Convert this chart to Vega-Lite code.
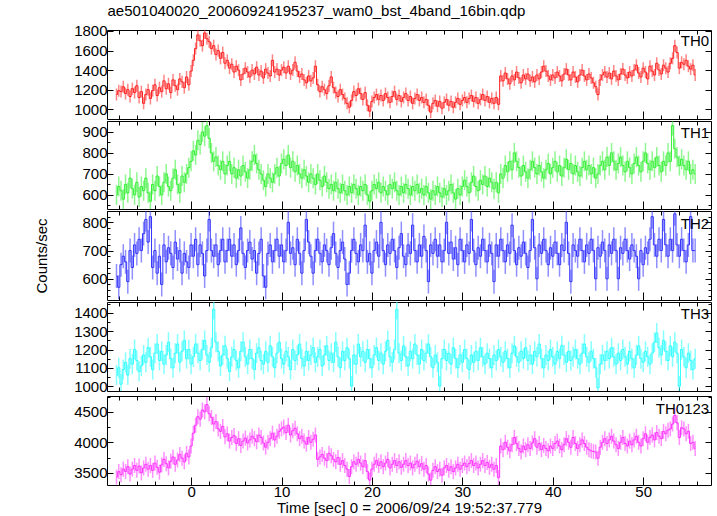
{
"$schema":"https://vega.github.io/schema/vega-lite/v6.json",
"background":"white",
"padding":{"left":34,"top":4,"right":5,"bottom":2},
"title":{"text":"ae501040020_20060924195237_wam0_bst_4band_16bin.qdp","anchor":"start","fontSize":15,"fontWeight":"normal","font":"Liberation Sans","color":"black","offset":4,"dx":73},
"spacing":0,
"data":{"values":[
{"t":-8.25,"a":1150,"b":600,"c":610,"d":1060,"e":3430},
{"t":-8,"a":1190,"b":640,"c":570,"d":1100,"e":3520},
{"t":-7.75,"a":1180,"b":620,"c":650,"d":1010,"e":3470},
{"t":-7.5,"a":1230,"b":580,"c":680,"d":1090,"e":3560},
{"t":-7.25,"a":1160,"b":650,"c":660,"d":1130,"e":3520},
{"t":-7,"a":1200,"b":610,"c":590,"d":1060,"e":3600},
{"t":-6.75,"a":1130,"b":680,"c":700,"d":1150,"e":3480},
{"t":-6.5,"a":1210,"b":630,"c":640,"d":1120,"e":3560},
{"t":-6.25,"a":1170,"b":600,"c":720,"d":1200,"e":3620},
{"t":-6,"a":1240,"b":660,"c":690,"d":1140,"e":3540},
{"t":-5.75,"a":1120,"b":590,"c":740,"d":1080,"e":3610},
{"t":-5.5,"a":1180,"b":640,"c":700,"d":1110,"e":3500},
{"t":-5.25,"a":1060,"b":620,"c":760,"d":1170,"e":3580},
{"t":-5,"a":1150,"b":680,"c":810,"d":1130,"e":3640},
{"t":-4.75,"a":1200,"b":610,"c":730,"d":1210,"e":3560},
{"t":-4.5,"a":1110,"b":570,"c":820,"d":1160,"e":3620},
{"t":-4.25,"a":1190,"b":650,"c":640,"d":1090,"e":3540},
{"t":-4,"a":1250,"b":620,"c":700,"d":1180,"e":3660},
{"t":-3.75,"a":1140,"b":690,"c":620,"d":1230,"e":3590},
{"t":-3.5,"a":1220,"b":640,"c":680,"d":1140,"e":3510},
{"t":-3.25,"a":1180,"b":600,"c":580,"d":1190,"e":3630},
{"t":-3,"a":1290,"b":660,"c":720,"d":1120,"e":3720},
{"t":-2.75,"a":1210,"b":700,"c":660,"d":1170,"e":3650},
{"t":-2.5,"a":1260,"b":640,"c":710,"d":1240,"e":3580},
{"t":-2.25,"a":1170,"b":620,"c":690,"d":1150,"e":3690},
{"t":-2,"a":1300,"b":680,"c":640,"d":1100,"e":3760},
{"t":-1.75,"a":1240,"b":720,"c":730,"d":1180,"e":3640},
{"t":-1.5,"a":1200,"b":650,"c":670,"d":1230,"e":3710},
{"t":-1.25,"a":1310,"b":610,"c":700,"d":1130,"e":3800},
{"t":-1,"a":1280,"b":690,"c":620,"d":1190,"e":3740},
{"t":-0.75,"a":1220,"b":660,"c":690,"d":1250,"e":3680},
{"t":-0.5,"a":1330,"b":700,"c":660,"d":1150,"e":3820},
{"t":-0.25,"a":1250,"b":730,"c":640,"d":1200,"e":3760},
{"t":0,"a":1390,"b":760,"c":720,"d":1120,"e":3940},
{"t":0.25,"a":1500,"b":810,"c":680,"d":1160,"e":4150},
{"t":0.5,"a":1620,"b":790,"c":740,"d":1230,"e":4280},
{"t":0.75,"a":1760,"b":860,"c":650,"d":1180,"e":4420},
{"t":1,"a":1700,"b":840,"c":720,"d":1140,"e":4380},
{"t":1.25,"a":1650,"b":900,"c":690,"d":1200,"e":4530},
{"t":1.5,"a":1780,"b":880,"c":610,"d":1250,"e":4500},
{"t":1.75,"a":1720,"b":930,"c":700,"d":1170,"e":4620},
{"t":2,"a":1690,"b":870,"c":810,"d":1130,"e":4470},
{"t":2.25,"a":1620,"b":800,"c":700,"d":1210,"e":4410},
{"t":2.5,"a":1650,"b":760,"c":680,"d":1420,"e":4300},
{"t":2.75,"a":1560,"b":780,"c":720,"d":1240,"e":4340},
{"t":3,"a":1600,"b":740,"c":650,"d":1190,"e":4220},
{"t":3.25,"a":1520,"b":720,"c":700,"d":1110,"e":4180},
{"t":3.5,"a":1580,"b":760,"c":740,"d":1170,"e":4260},
{"t":3.75,"a":1470,"b":700,"c":660,"d":1220,"e":4090},
{"t":4,"a":1500,"b":740,"c":700,"d":1150,"e":4140},
{"t":4.25,"a":1420,"b":760,"c":740,"d":1080,"e":4020},
{"t":4.5,"a":1460,"b":700,"c":680,"d":1160,"e":4080},
{"t":4.75,"a":1380,"b":730,"c":720,"d":1200,"e":4110},
{"t":5,"a":1440,"b":680,"c":650,"d":1140,"e":3980},
{"t":5.25,"a":1400,"b":720,"c":700,"d":1100,"e":4060},
{"t":5.5,"a":1300,"b":690,"c":780,"d":1190,"e":3950},
{"t":5.75,"a":1360,"b":740,"c":690,"d":1240,"e":4020},
{"t":6,"a":1420,"b":710,"c":640,"d":1160,"e":4070},
{"t":6.25,"a":1380,"b":680,"c":700,"d":1120,"e":3990},
{"t":6.5,"a":1330,"b":720,"c":730,"d":1200,"e":4040},
{"t":6.75,"a":1400,"b":760,"c":670,"d":1150,"e":4100},
{"t":7,"a":1360,"b":790,"c":700,"d":1090,"e":4060},
{"t":7.25,"a":1430,"b":750,"c":620,"d":1180,"e":4010},
{"t":7.5,"a":1350,"b":720,"c":690,"d":1210,"e":4120},
{"t":7.75,"a":1390,"b":700,"c":740,"d":1140,"e":4080},
{"t":8,"a":1320,"b":670,"c":610,"d":1120,"e":3990},
{"t":8.25,"a":1410,"b":640,"c":570,"d":1190,"e":3920},
{"t":8.5,"a":1370,"b":700,"c":690,"d":1130,"e":4000},
{"t":8.75,"a":1340,"b":680,"c":720,"d":1220,"e":4060},
{"t":9,"a":1500,"b":660,"c":660,"d":1160,"e":4150},
{"t":9.25,"a":1380,"b":700,"c":700,"d":1100,"e":4040},
{"t":9.5,"a":1410,"b":730,"c":740,"d":1180,"e":4100},
{"t":9.75,"a":1350,"b":690,"c":680,"d":1240,"e":4180},
{"t":10,"a":1400,"b":750,"c":720,"d":1150,"e":4220},
{"t":10.25,"a":1430,"b":770,"c":660,"d":1120,"e":4250},
{"t":10.5,"a":1370,"b":740,"c":700,"d":1190,"e":4160},
{"t":10.75,"a":1440,"b":790,"c":800,"d":1160,"e":4280},
{"t":11,"a":1360,"b":730,"c":690,"d":1090,"e":4120},
{"t":11.25,"a":1400,"b":760,"c":710,"d":1200,"e":4190},
{"t":11.5,"a":1480,"b":710,"c":650,"d":1140,"e":4230},
{"t":11.75,"a":1390,"b":740,"c":740,"d":1170,"e":4140},
{"t":12,"a":1330,"b":700,"c":690,"d":1230,"e":4060},
{"t":12.25,"a":1360,"b":680,"c":620,"d":1150,"e":4100},
{"t":12.5,"a":1300,"b":720,"c":700,"d":1110,"e":4020},
{"t":12.75,"a":1270,"b":690,"c":810,"d":1190,"e":3970},
{"t":13,"a":1340,"b":660,"c":730,"d":1140,"e":4080},
{"t":13.25,"a":1290,"b":700,"c":680,"d":1170,"e":4000},
{"t":13.5,"a":1320,"b":680,"c":620,"d":1210,"e":4050},
{"t":13.75,"a":1440,"b":650,"c":700,"d":1130,"e":4120},
{"t":14,"a":1250,"b":700,"c":740,"d":1160,"e":3720},
{"t":14.25,"a":1180,"b":670,"c":690,"d":1200,"e":3760},
{"t":14.5,"a":1230,"b":640,"c":660,"d":1110,"e":3800},
{"t":14.75,"a":1200,"b":690,"c":720,"d":1170,"e":3740},
{"t":15,"a":1160,"b":660,"c":700,"d":1220,"e":3700},
{"t":15.25,"a":1240,"b":630,"c":650,"d":1140,"e":3820},
{"t":15.5,"a":1330,"b":650,"c":710,"d":1180,"e":3780},
{"t":15.75,"a":1220,"b":620,"c":760,"d":1130,"e":3720},
{"t":16,"a":1170,"b":660,"c":690,"d":1240,"e":3680},
{"t":16.25,"a":1130,"b":630,"c":640,"d":1160,"e":3750},
{"t":16.5,"a":1200,"b":610,"c":700,"d":1100,"e":3640},
{"t":16.75,"a":1150,"b":650,"c":730,"d":1190,"e":3700},
{"t":17,"a":1110,"b":620,"c":670,"d":1140,"e":3620},
{"t":17.25,"a":1060,"b":600,"c":580,"d":1210,"e":3560},
{"t":17.5,"a":1020,"b":640,"c":620,"d":1150,"e":3440},
{"t":17.75,"a":1090,"b":610,"c":700,"d":1000,"e":3600},
{"t":18,"a":1180,"b":650,"c":740,"d":1170,"e":3680},
{"t":18.25,"a":1140,"b":630,"c":690,"d":1120,"e":3640},
{"t":18.5,"a":1210,"b":600,"c":660,"d":1230,"e":3720},
{"t":18.75,"a":1160,"b":640,"c":720,"d":1160,"e":3660},
{"t":19,"a":1100,"b":620,"c":700,"d":1190,"e":3600},
{"t":19.25,"a":1170,"b":650,"c":790,"d":1130,"e":3700},
{"t":19.5,"a":1040,"b":600,"c":660,"d":1200,"e":3520},
{"t":19.75,"a":980,"b":570,"c":690,"d":1150,"e":3380},
{"t":20,"a":1080,"b":620,"c":620,"d":1100,"e":3560},
{"t":20.25,"a":1120,"b":650,"c":700,"d":1170,"e":3640},
{"t":20.5,"a":1150,"b":630,"c":730,"d":1210,"e":3700},
{"t":20.75,"a":1100,"b":660,"c":680,"d":1140,"e":3620},
{"t":21,"a":1140,"b":610,"c":800,"d":1180,"e":3680},
{"t":21.25,"a":1090,"b":640,"c":700,"d":1120,"e":3600},
{"t":21.5,"a":1160,"b":620,"c":650,"d":1190,"e":3660},
{"t":21.75,"a":1120,"b":600,"c":720,"d":1250,"e":3720},
{"t":22,"a":1070,"b":650,"c":690,"d":1160,"e":3580},
{"t":22.25,"a":1130,"b":630,"c":740,"d":1130,"e":3640},
{"t":22.5,"a":1180,"b":660,"c":700,"d":1200,"e":3700},
{"t":22.75,"a":1100,"b":620,"c":640,"d":1420,"e":3620},
{"t":23,"a":1140,"b":600,"c":710,"d":1180,"e":3680},
{"t":23.25,"a":1080,"b":640,"c":760,"d":1140,"e":3590},
{"t":23.5,"a":1120,"b":610,"c":680,"d":1220,"e":3640},
{"t":23.75,"a":1160,"b":650,"c":650,"d":1160,"e":3700},
{"t":24,"a":1090,"b":630,"c":720,"d":1110,"e":3620},
{"t":24.25,"a":1130,"b":600,"c":690,"d":1190,"e":3660},
{"t":24.5,"a":1060,"b":640,"c":790,"d":1150,"e":3580},
{"t":24.75,"a":1110,"b":620,"c":700,"d":1230,"e":3640},
{"t":25,"a":1150,"b":650,"c":660,"d":1170,"e":3690},
{"t":25.25,"a":1090,"b":610,"c":720,"d":1120,"e":3600},
{"t":25.5,"a":1120,"b":630,"c":680,"d":1200,"e":3650},
{"t":25.75,"a":1070,"b":600,"c":750,"d":1140,"e":3560},
{"t":26,"a":1100,"b":640,"c":700,"d":1180,"e":3620},
{"t":26.25,"a":1040,"b":610,"c":590,"d":1230,"e":3480},
{"t":26.5,"a":970,"b":580,"c":720,"d":1160,"e":3380},
{"t":26.75,"a":1060,"b":620,"c":690,"d":1100,"e":3540},
{"t":27,"a":1090,"b":600,"c":740,"d":1170,"e":3600},
{"t":27.25,"a":1030,"b":640,"c":680,"d":1130,"e":3520},
{"t":27.5,"a":1080,"b":610,"c":720,"d":1000,"e":3560},
{"t":27.75,"a":1010,"b":590,"c":660,"d":1150,"e":3460},
{"t":28,"a":1070,"b":630,"c":700,"d":1200,"e":3580},
{"t":28.25,"a":1100,"b":600,"c":800,"d":1140,"e":3620},
{"t":28.5,"a":1040,"b":620,"c":690,"d":1180,"e":3540},
{"t":28.75,"a":1080,"b":650,"c":730,"d":1120,"e":3600},
{"t":29,"a":1020,"b":610,"c":670,"d":1210,"e":3520},
{"t":29.25,"a":1070,"b":580,"c":710,"d":1150,"e":3580},
{"t":29.5,"a":1110,"b":630,"c":650,"d":1100,"e":3640},
{"t":29.75,"a":1050,"b":600,"c":740,"d":1170,"e":3560},
{"t":30,"a":1090,"b":640,"c":700,"d":1130,"e":3620},
{"t":30.25,"a":1120,"b":670,"c":660,"d":1200,"e":3660},
{"t":30.5,"a":1070,"b":640,"c":720,"d":1150,"e":3600},
{"t":30.75,"a":1110,"b":610,"c":690,"d":1090,"e":3650},
{"t":31,"a":1140,"b":660,"c":810,"d":1170,"e":3700},
{"t":31.25,"a":1080,"b":690,"c":700,"d":1130,"e":3620},
{"t":31.5,"a":1120,"b":640,"c":650,"d":1190,"e":3660},
{"t":31.75,"a":1060,"b":620,"c":710,"d":1140,"e":3580},
{"t":32,"a":1100,"b":670,"c":680,"d":1210,"e":3640},
{"t":32.25,"a":1150,"b":650,"c":740,"d":1160,"e":3700},
{"t":32.5,"a":1090,"b":690,"c":700,"d":1120,"e":3620},
{"t":32.75,"a":1130,"b":640,"c":660,"d":1180,"e":3670},
{"t":33,"a":1070,"b":680,"c":720,"d":1150,"e":3590},
{"t":33.25,"a":1110,"b":660,"c":690,"d":1100,"e":3640},
{"t":33.5,"a":1060,"b":630,"c":590,"d":1170,"e":3560},
{"t":33.75,"a":1120,"b":660,"c":720,"d":1140,"e":3620},
{"t":34,"a":1050,"b":610,"c":680,"d":1200,"e":3420},
{"t":34.25,"a":1340,"b":700,"c":740,"d":1160,"e":3940},
{"t":34.5,"a":1290,"b":680,"c":700,"d":1130,"e":3880},
{"t":34.75,"a":1370,"b":740,"c":660,"d":1190,"e":4000},
{"t":35,"a":1310,"b":710,"c":720,"d":1150,"e":3920},
{"t":35.25,"a":1260,"b":760,"c":690,"d":1100,"e":3860},
{"t":35.5,"a":1340,"b":720,"c":790,"d":1180,"e":3960},
{"t":35.75,"a":1300,"b":800,"c":700,"d":1220,"e":4080},
{"t":36,"a":1380,"b":760,"c":650,"d":1160,"e":3980},
{"t":36.25,"a":1320,"b":730,"c":710,"d":1130,"e":3900},
{"t":36.5,"a":1270,"b":690,"c":680,"d":1190,"e":3840},
{"t":36.75,"a":1350,"b":740,"c":730,"d":1150,"e":3940},
{"t":37,"a":1310,"b":710,"c":690,"d":1210,"e":3880},
{"t":37.25,"a":1360,"b":680,"c":640,"d":1140,"e":3960},
{"t":37.5,"a":1290,"b":720,"c":700,"d":1170,"e":3900},
{"t":37.75,"a":1330,"b":760,"c":810,"d":1120,"e":3990},
{"t":38,"a":1280,"b":730,"c":710,"d":1190,"e":4060},
{"t":38.25,"a":1350,"b":700,"c":600,"d":1160,"e":3920},
{"t":38.5,"a":1310,"b":740,"c":720,"d":1230,"e":3980},
{"t":38.75,"a":1380,"b":710,"c":690,"d":1150,"e":3880},
{"t":39,"a":1440,"b":680,"c":740,"d":1100,"e":3950},
{"t":39.25,"a":1390,"b":720,"c":700,"d":1170,"e":3900},
{"t":39.5,"a":1340,"b":750,"c":650,"d":1140,"e":3860},
{"t":39.75,"a":1300,"b":700,"c":710,"d":1200,"e":3940},
{"t":40,"a":1350,"b":730,"c":680,"d":1160,"e":3900},
{"t":40.25,"a":1320,"b":760,"c":730,"d":1120,"e":3980},
{"t":40.5,"a":1380,"b":710,"c":690,"d":1190,"e":4020},
{"t":40.75,"a":1340,"b":740,"c":650,"d":1150,"e":3940},
{"t":41,"a":1290,"b":690,"c":720,"d":1220,"e":3880},
{"t":41.25,"a":1360,"b":730,"c":700,"d":1170,"e":3960},
{"t":41.5,"a":1410,"b":770,"c":800,"d":1130,"e":4060},
{"t":41.75,"a":1350,"b":720,"c":690,"d":1190,"e":4000},
{"t":42,"a":1300,"b":750,"c":590,"d":1140,"e":3920},
{"t":42.25,"a":1380,"b":700,"c":720,"d":1160,"e":4080},
{"t":42.5,"a":1330,"b":740,"c":700,"d":1200,"e":3980},
{"t":42.75,"a":1280,"b":710,"c":680,"d":1150,"e":3900},
{"t":43,"a":1350,"b":690,"c":740,"d":1120,"e":3960},
{"t":43.25,"a":1400,"b":730,"c":700,"d":1180,"e":4040},
{"t":43.5,"a":1340,"b":760,"c":660,"d":1230,"e":3980},
{"t":43.75,"a":1300,"b":720,"c":720,"d":1160,"e":3920},
{"t":44,"a":1360,"b":740,"c":690,"d":1130,"e":3880},
{"t":44.25,"a":1320,"b":700,"c":740,"d":1190,"e":3860},
{"t":44.5,"a":1270,"b":730,"c":700,"d":1150,"e":3850},
{"t":44.75,"a":1230,"b":680,"c":600,"d":1100,"e":3840},
{"t":45,"a":1150,"b":700,"c":710,"d":990,"e":3740},
{"t":45.25,"a":1300,"b":740,"c":680,"d":1120,"e":3920},
{"t":45.5,"a":1350,"b":760,"c":730,"d":1170,"e":4000},
{"t":45.75,"a":1380,"b":720,"c":700,"d":1140,"e":4060},
{"t":46,"a":1330,"b":780,"c":600,"d":1190,"e":3980},
{"t":46.25,"a":1370,"b":740,"c":720,"d":1150,"e":4040},
{"t":46.5,"a":1310,"b":800,"c":690,"d":1210,"e":4100},
{"t":46.75,"a":1390,"b":760,"c":740,"d":1160,"e":4020},
{"t":47,"a":1340,"b":720,"c":700,"d":1120,"e":3960},
{"t":47.25,"a":1300,"b":750,"c":600,"d":1180,"e":3900},
{"t":47.5,"a":1360,"b":780,"c":710,"d":1140,"e":4000},
{"t":47.75,"a":1410,"b":740,"c":690,"d":1200,"e":4080},
{"t":48,"a":1350,"b":710,"c":740,"d":1160,"e":3980},
{"t":48.25,"a":1320,"b":760,"c":700,"d":1120,"e":3940},
{"t":48.5,"a":1380,"b":730,"c":670,"d":1190,"e":4020},
{"t":48.75,"a":1340,"b":700,"c":720,"d":1150,"e":3960},
{"t":49,"a":1400,"b":750,"c":700,"d":1100,"e":4040},
{"t":49.25,"a":1450,"b":780,"c":680,"d":1170,"e":4100},
{"t":49.5,"a":1370,"b":740,"c":600,"d":1220,"e":4000},
{"t":49.75,"a":1330,"b":710,"c":700,"d":1150,"e":3940},
{"t":50,"a":1420,"b":760,"c":650,"d":1130,"e":4060},
{"t":50.25,"a":1380,"b":800,"c":710,"d":1190,"e":4140},
{"t":50.5,"a":1310,"b":750,"c":690,"d":1160,"e":4000},
{"t":50.75,"a":1440,"b":720,"c":740,"d":1120,"e":4080},
{"t":51,"a":1390,"b":760,"c":820,"d":1180,"e":4120},
{"t":51.25,"a":1350,"b":730,"c":720,"d":1240,"e":4040},
{"t":51.5,"a":1470,"b":780,"c":680,"d":1290,"e":4160},
{"t":51.75,"a":1400,"b":740,"c":740,"d":1210,"e":4100},
{"t":52,"a":1360,"b":710,"c":700,"d":1170,"e":4060},
{"t":52.25,"a":1450,"b":760,"c":810,"d":1250,"e":4180},
{"t":52.5,"a":1420,"b":740,"c":720,"d":1190,"e":4140},
{"t":52.75,"a":1380,"b":800,"c":680,"d":1140,"e":4200},
{"t":53,"a":1470,"b":760,"c":740,"d":1220,"e":4220},
{"t":53.25,"a":1520,"b":930,"c":700,"d":1160,"e":4300},
{"t":53.5,"a":1650,"b":820,"c":830,"d":1240,"e":4440},
{"t":53.75,"a":1580,"b":780,"c":720,"d":1180,"e":4320},
{"t":54,"a":1420,"b":740,"c":680,"d":1000,"e":4080},
{"t":54.25,"a":1480,"b":770,"c":740,"d":1200,"e":4240},
{"t":54.5,"a":1460,"b":740,"c":700,"d":1160,"e":4220},
{"t":54.75,"a":1500,"b":720,"c":660,"d":1100,"e":4140},
{"t":55,"a":1440,"b":760,"c":720,"d":1180,"e":4180},
{"t":55.25,"a":1410,"b":700,"c":820,"d":1140,"e":3980},
{"t":55.5,"a":1450,"b":720,"c":700,"d":1090,"e":4000},
{"t":55.75,"a":1350,"b":700,"c":700,"d":1150,"e":3900}
]},
"vconcat":[
{"width":604,"height":89,
 "layer":[
  {"mark":{"type":"tick","orient":"vertical","color":"#ff2020","thickness":1.5,"size":12,"opacity":0.55,"clip":true},
   "encoding":{
    "x":{"field":"t","type":"quantitative","scale":{"domain":[-9.3,57.5],"nice":false,"zero":false},"axis":{"orient":"bottom","values":[-8,-6,-4,-2,0,2,4,6,8,10,12,14,16,18,20,22,24,26,28,30,32,34,36,38,40,42,44,46,48,50,52,54,56],"tickSize":{"condition":{"test":"datum.value % 10 === 0","value":-8},"value":-4},"labels":false,"title":null}},
    "y":{"field":"a","type":"quantitative","scale":{"domain":[900,1810],"nice":false,"zero":false},"axis":{"orient":"left","values":[1000,1200,1400,1600,1800],"format":"d","tickSize":-6,"labelPadding":6,"title":null}}}},
  {"mark":{"type":"line","interpolate":"step","color":"#ff2020","strokeWidth":1,"clip":true},
   "encoding":{
    "x":{"field":"t","type":"quantitative","axis":{"orient":"top","values":[-8,-6,-4,-2,0,2,4,6,8,10,12,14,16,18,20,22,24,26,28,30,32,34,36,38,40,42,44,46,48,50,52,54,56],"tickSize":{"condition":{"test":"datum.value % 10 === 0","value":-8},"value":-4},"labels":false,"title":null}},
    "y":{"field":"a","type":"quantitative","axis":{"orient":"right","values":[1000,1200,1400,1600,1800],"tickSize":-6,"labels":false,"title":null}}}},
  {"data":{"values":[{"t":57.3,"v":1700,"l":"TH0"}]},"mark":{"type":"text","align":"right","baseline":"middle","fontSize":15,"font":"Liberation Sans","color":"black"},
   "encoding":{"x":{"field":"t","type":"quantitative","axis":null},"y":{"field":"v","type":"quantitative","axis":null},"text":{"field":"l"}}}
 ],
 "resolve":{"axis":{"x":"independent","y":"independent"}}},
{"width":604,"height":88,
 "layer":[
  {"mark":{"type":"tick","orient":"vertical","color":"#33f033","thickness":1.5,"size":20,"opacity":0.55,"clip":true},
   "encoding":{
    "x":{"field":"t","type":"quantitative","scale":{"domain":[-9.3,57.5],"nice":false,"zero":false},"axis":{"orient":"bottom","values":[-8,-6,-4,-2,0,2,4,6,8,10,12,14,16,18,20,22,24,26,28,30,32,34,36,38,40,42,44,46,48,50,52,54,56],"tickSize":{"condition":{"test":"datum.value % 10 === 0","value":-8},"value":-4},"labels":false,"title":null}},
    "y":{"field":"b","type":"quantitative","scale":{"domain":[533,952],"nice":false,"zero":false},"axis":{"orient":"left","values":[550,600,650,700,750,800,850,900,950],"format":"d","tickSize":{"condition":{"test":"datum.value % 100 === 0","value":-6},"value":-3},"labelExpr":"datum.value % 100 === 0 ? datum.label : ''","labelPadding":6,"title":null}}}},
  {"mark":{"type":"line","interpolate":"step","color":"#33f033","strokeWidth":1,"clip":true},
   "encoding":{
    "x":{"field":"t","type":"quantitative","axis":{"orient":"top","values":[-8,-6,-4,-2,0,2,4,6,8,10,12,14,16,18,20,22,24,26,28,30,32,34,36,38,40,42,44,46,48,50,52,54,56],"tickSize":{"condition":{"test":"datum.value % 10 === 0","value":-8},"value":-4},"labels":false,"title":null}},
    "y":{"field":"b","type":"quantitative","axis":{"orient":"right","values":[550,600,650,700,750,800,850,900,950],"tickSize":{"condition":{"test":"datum.value % 100 === 0","value":-6},"value":-3},"labels":false,"title":null}}}},
  {"data":{"values":[{"t":57.3,"v":895,"l":"TH1"}]},"mark":{"type":"text","align":"right","baseline":"middle","fontSize":15,"font":"Liberation Sans","color":"black"},
   "encoding":{"x":{"field":"t","type":"quantitative","axis":null},"y":{"field":"v","type":"quantitative","axis":null},"text":{"field":"l"}}}
 ],
 "resolve":{"axis":{"x":"independent","y":"independent"}}},
{"width":604,"height":89,
 "layer":[
  {"mark":{"type":"tick","orient":"vertical","color":"#3333ff","thickness":1.5,"size":24,"opacity":0.55,"clip":true},
   "encoding":{
    "x":{"field":"t","type":"quantitative","scale":{"domain":[-9.3,57.5],"nice":false,"zero":false},"axis":{"orient":"bottom","values":[-8,-6,-4,-2,0,2,4,6,8,10,12,14,16,18,20,22,24,26,28,30,32,34,36,38,40,42,44,46,48,50,52,54,56],"tickSize":{"condition":{"test":"datum.value % 10 === 0","value":-8},"value":-4},"labels":false,"title":null}},
    "y":{"field":"c","type":"quantitative","scale":{"domain":[525,840],"nice":false,"zero":false},"axis":{"orient":"left","values":[540,560,580,600,620,640,660,680,700,720,740,760,780,800,820,840],"format":"d","tickSize":{"condition":{"test":"datum.value % 100 === 0","value":-6},"value":-3},"labelExpr":"datum.value % 100 === 0 ? datum.label : ''","labelPadding":6,"title":"Counts/sec","titlePadding":32,"titleFontWeight":"normal","titleFontSize":15}}}},
  {"mark":{"type":"line","interpolate":"step","color":"#3333ff","strokeWidth":1,"clip":true},
   "encoding":{
    "x":{"field":"t","type":"quantitative","axis":{"orient":"top","values":[-8,-6,-4,-2,0,2,4,6,8,10,12,14,16,18,20,22,24,26,28,30,32,34,36,38,40,42,44,46,48,50,52,54,56],"tickSize":{"condition":{"test":"datum.value % 10 === 0","value":-8},"value":-4},"labels":false,"title":null}},
    "y":{"field":"c","type":"quantitative","axis":{"orient":"right","values":[540,560,580,600,620,640,660,680,700,720,740,760,780,800,820,840],"tickSize":{"condition":{"test":"datum.value % 100 === 0","value":-6},"value":-3},"labels":false,"title":null}}}},
  {"data":{"values":[{"t":57.3,"v":793,"l":"TH2"}]},"mark":{"type":"text","align":"right","baseline":"middle","fontSize":15,"font":"Liberation Sans","color":"black"},
   "encoding":{"x":{"field":"t","type":"quantitative","axis":null},"y":{"field":"v","type":"quantitative","axis":null},"text":{"field":"l"}}}
 ],
 "resolve":{"axis":{"x":"independent","y":"independent"}}},
{"width":604,"height":89,
 "layer":[
  {"mark":{"type":"tick","orient":"vertical","color":"#33ffff","thickness":1.5,"size":20,"opacity":0.6,"clip":true},
   "encoding":{
    "x":{"field":"t","type":"quantitative","scale":{"domain":[-9.3,57.5],"nice":false,"zero":false},"axis":{"orient":"bottom","values":[-8,-6,-4,-2,0,2,4,6,8,10,12,14,16,18,20,22,24,26,28,30,32,34,36,38,40,42,44,46,48,50,52,54,56],"tickSize":{"condition":{"test":"datum.value % 10 === 0","value":-8},"value":-4},"labels":false,"title":null}},
    "y":{"field":"d","type":"quantitative","scale":{"domain":[973,1460],"nice":false,"zero":false},"axis":{"orient":"left","values":[1000,1050,1100,1150,1200,1250,1300,1350,1400,1450],"format":"d","tickSize":{"condition":{"test":"datum.value % 100 === 0","value":-6},"value":-3},"labelExpr":"datum.value % 100 === 0 ? datum.label : ''","labelPadding":6,"title":null}}}},
  {"mark":{"type":"line","interpolate":"step","color":"#33ffff","strokeWidth":1,"clip":true},
   "encoding":{
    "x":{"field":"t","type":"quantitative","axis":{"orient":"top","values":[-8,-6,-4,-2,0,2,4,6,8,10,12,14,16,18,20,22,24,26,28,30,32,34,36,38,40,42,44,46,48,50,52,54,56],"tickSize":{"condition":{"test":"datum.value % 10 === 0","value":-8},"value":-4},"labels":false,"title":null}},
    "y":{"field":"d","type":"quantitative","axis":{"orient":"right","values":[1000,1050,1100,1150,1200,1250,1300,1350,1400,1450],"tickSize":{"condition":{"test":"datum.value % 100 === 0","value":-6},"value":-3},"labels":false,"title":null}}}},
  {"data":{"values":[{"t":57.3,"v":1395,"l":"TH3"}]},"mark":{"type":"text","align":"right","baseline":"middle","fontSize":15,"font":"Liberation Sans","color":"black"},
   "encoding":{"x":{"field":"t","type":"quantitative","axis":null},"y":{"field":"v","type":"quantitative","axis":null},"text":{"field":"l"}}}
 ],
 "resolve":{"axis":{"x":"independent","y":"independent"}}},
{"width":604,"height":89,
 "layer":[
  {"mark":{"type":"tick","orient":"vertical","color":"#ff33ff","thickness":1.5,"size":15,"opacity":0.55,"clip":true},
   "encoding":{
    "x":{"field":"t","type":"quantitative","scale":{"domain":[-9.3,57.5],"nice":false,"zero":false},"axis":{"orient":"bottom","values":[-8,-6,-4,-2,0,2,4,6,8,10,12,14,16,18,20,22,24,26,28,30,32,34,36,38,40,42,44,46,48,50,52,54,56],"tickSize":{"condition":{"test":"datum.value % 10 === 0","value":-8},"value":-4},"labelExpr":"datum.value % 10 === 0 ? datum.label : ''","labelPadding":7,"title":"Time [sec] 0 = 2006/09/24 19:52:37.779","titleFontWeight":"normal","titleFontSize":15,"titlePadding":1}},
    "y":{"field":"e","type":"quantitative","scale":{"domain":[3300,4760],"nice":false,"zero":false},"axis":{"orient":"left","values":[3500,3750,4000,4250,4500,4750],"format":"d","tickSize":{"condition":{"test":"datum.value % 500 === 0","value":-6},"value":-3},"labelExpr":"datum.value % 500 === 0 ? datum.label : ''","labelPadding":6,"title":null}}}},
  {"mark":{"type":"line","interpolate":"step","color":"#ff33ff","strokeWidth":1,"clip":true},
   "encoding":{
    "x":{"field":"t","type":"quantitative","axis":{"orient":"top","values":[-8,-6,-4,-2,0,2,4,6,8,10,12,14,16,18,20,22,24,26,28,30,32,34,36,38,40,42,44,46,48,50,52,54,56],"tickSize":{"condition":{"test":"datum.value % 10 === 0","value":-8},"value":-4},"labels":false,"title":null}},
    "y":{"field":"e","type":"quantitative","axis":{"orient":"right","values":[3500,3750,4000,4250,4500,4750],"tickSize":{"condition":{"test":"datum.value % 500 === 0","value":-6},"value":-3},"labels":false,"title":null}}}},
  {"data":{"values":[{"t":57.3,"v":4550,"l":"TH0123"}]},"mark":{"type":"text","align":"right","baseline":"middle","fontSize":15,"font":"Liberation Sans","color":"black"},
   "encoding":{"x":{"field":"t","type":"quantitative","axis":null},"y":{"field":"v","type":"quantitative","axis":null},"text":{"field":"l"}}}
 ],
 "resolve":{"axis":{"x":"independent","y":"independent"}}}
],
"config":{
 "font":"Liberation Sans",
 "view":{"stroke":"black","strokeWidth":1},
 "axis":{"domain":false,"grid":false,"tickColor":"black","tickWidth":1,"labelFont":"Liberation Sans","labelFontSize":15,"labelColor":"black","titleFont":"Liberation Sans","titleColor":"black","titleFontWeight":"normal","titleFontSize":15},
 "concat":{"spacing":0}
}
}
